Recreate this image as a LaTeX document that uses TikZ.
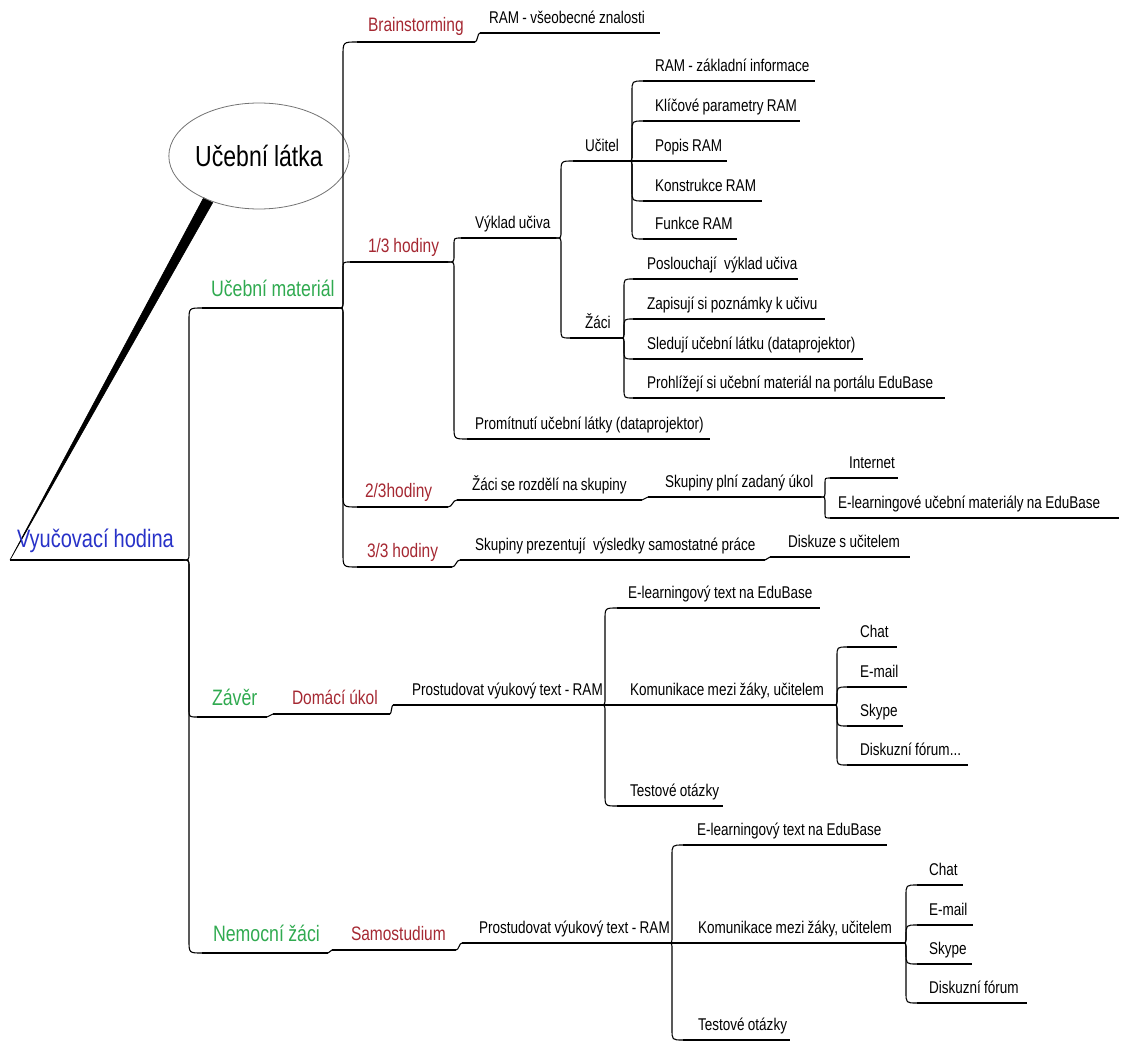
\documentclass[tikz,border=0pt]{standalone}
\usepackage{fontspec}
\setmainfont{Liberation Sans}[FakeStretch=0.795,WordSpace=0.9]
\usetikzlibrary{calc,shapes.geometric,backgrounds}
\definecolor{mgreen}{RGB}{48,170,80}
\definecolor{mred}{RGB}{165,40,50}
\definecolor{mblue}{RGB}{40,50,200}
\tikzset{
 cn/.style={line width=1.1pt, black},
 ul/.style={line width=1.3pt, black},
 tk/.style={font=\fontsize{17}{20}\selectfont, text depth=0pt, inner ysep=9.5pt},
 tr/.style={font=\fontsize{19.5}{23}\selectfont, text=mred, text depth=0pt, inner ysep=10pt},
 tg/.style={font=\fontsize{22.3}{26}\selectfont, text=mgreen, text depth=0pt, inner ysep=12pt},
 tb/.style={font=\fontsize{25.2}{29}\selectfont, text=mblue, text depth=0pt, inner ysep=13pt},
}
% #1 style, #2 name, #3 underline start x, #4 underline end x, #5 underline y, #6 text x, #7 text
\newcommand\mm[7]{%
  \pgfmathsetmacro\mmpad{#6-#3}%
  \pgfmathsetmacro\mmw{#4-#6-(#6-#3)}%
  \node[#1, anchor=south west, inner xsep=\mmpad pt, text width=\mmw pt, align=left, outer sep=0pt] (#2) at (#3,#5) {\mbox{\spaceskip=0pt\xspaceskip=0pt\relax #7}};
  \draw[ul] (#2.south west) -- (#2.south east);}
% bracket connector
\newcommand\brk[3][5]{%
  \draw[cn] let \p1=(#2.south east), \p2=(#3.south west), \n1={sign(\y2-\y1)} in
   (\p1) .. controls ({\x1+#1pt},\y1) .. ({\x1+#1pt},{\y1+\n1*7pt})
   -- ({\x1+#1pt},{\y2-\n1*(\x2-\x1-#1pt)})
   .. controls ({\x1+#1pt},\y2) .. (\p2);}
% small step connector
\newcommand\stp[2]{%
  \draw[cn] let \p1=(#1.south east), \p2=(#2.south west) in
   (\p1) .. controls ({(\x1+\x2)/2},\y1) and ({(\x1+\x2)/2},\y2) .. (\p2);}
% straight continuation
\newcommand\stc[2]{\draw[cn] (#1.south east) -- (#2.south west);}
\begin{document}
\begin{tikzpicture}[x=1pt,y=-1pt]
\useasboundingbox (0,0) rectangle (1121,1043);
% ellipse
\node[draw=black!55, line width=0.8pt, ellipse, minimum width=146pt, minimum height=106pt, inner sep=0pt, font=\fontsize{29}{32}\selectfont] (latka) at (259,156) {Učební látka};
% root
\mm{tb}{root}{10}{183}{560}{17}{Vyučovací hodina}
\begin{pgfonlayer}{background}
\filldraw[black, line width=0.6pt] (root.south west) -- ($(latka.221)+(-4.5,-2.5)$) -- ($(latka.221)+(4.5,2.5)$) -- cycle;
\end{pgfonlayer}
% level 1
\mm{tg}{um}{202}{338}{308}{211}{Učební materiál}
\mm{tg}{zaver}{197}{267}{717}{212}{Závěr}
\mm{tg}{nz}{202}{328}{953}{213}{Nemocní žáci}
\brk[6]{root}{um}
\brk[6]{root}{zaver}
\brk[6]{root}{nz}
% level 2 under Učební materiál
\mm{tr}{brain}{357}{475}{42}{368}{Brainstorming}
\mm{tr}{h13}{350}{448}{262}{368}{1/3 hodiny}
\mm{tr}{h23}{357}{448}{507}{365}{2/3hodiny}
\mm{tr}{h33}{357}{452}{567}{367}{3/3 hodiny}
\brk[5]{um}{brain}
\brk[5]{um}{h13}
\brk[5]{um}{h23}
\brk[5]{um}{h33}
\mm{tk}{ramv}{480}{660}{33}{489}{RAM - všeobecné znalosti}
\stp{brain}{ramv}
% 1/3 hodiny
\mm{tk}{vyklad}{461}{556}{238}{475}{Výklad učiva}
\mm{tk}{prom}{467}{710}{439}{475}{Promítnutí učební látky (dataprojektor)}
\brk[6]{h13}{vyklad}
\brk[6]{h13}{prom}
\mm{tk}{ucitel}{573}{628}{161}{585}{Učitel}
\mm{tk}{zaci}{570}{620}{338}{585}{Žáci}
\brk[5]{vyklad}{ucitel}
\brk[5]{vyklad}{zaci}
\mm{tk}{ra}{643}{815}{81}{655}{RAM - základní informace}
\mm{tk}{rb}{643}{800}{121}{655}{Klíčové parametry RAM}
\mm{tk}{rc}{630}{727}{161}{655}{Popis RAM}
\mm{tk}{rd}{643}{762}{201}{655}{Konstrukce RAM}
\mm{tk}{re}{643}{737}{239}{655}{Funkce RAM}
\brk[4]{ucitel}{ra}
\brk[4]{ucitel}{rb}
\stc{ucitel}{rc}
\brk[4]{ucitel}{rd}
\brk[4]{ucitel}{re}
\mm{tk}{za}{633}{798}{279}{647}{Poslouchají\hspace{4pt} výklad učiva}
\mm{tk}{zb}{633}{825}{319}{647}{Zapisují si poznámky k učivu}
\mm{tk}{zc}{633}{863}{359}{647}{Sledují učební látku (dataprojektor)}
\mm{tk}{zd}{633}{945}{398}{647}{Prohlížejí si učební materiál na portálu EduBase}
\brk[4]{zaci}{za}
\brk[4]{zaci}{zb}
\brk[4]{zaci}{zc}
\brk[4]{zaci}{zd}
% 2/3 hodiny
\mm{tk}{skup}{457}{642}{500}{472}{Žáci se rozdělí na skupiny}
\mm{tk}{plni}{648}{821}{497}{665}{Skupiny plní zadaný úkol}
\mm{tk}{inet}{830}{898}{478}{849}{Internet}
\mm{tk}{elm}{830}{1119}{518}{838}{E-learningové učební materiály na EduBase}
\stp{h23}{skup}
\stp{skup}{plni}
\brk[4]{plni}{inet}
\brk[4]{plni}{elm}
% 3/3 hodiny
\mm{tk}{prez}{460}{765}{560}{475}{Skupiny prezentují\hspace{4pt} výsledky samostatné práce}
\mm{tk}{disk}{770}{910}{557}{788}{Diskuze s učitelem}
\stp{h33}{prez}
\stp{prez}{disk}
% Závěr
\mm{tr}{du}{273}{390}{714}{292}{Domácí úkol}
\mm{tk}{pra}{393}{600}{705}{412}{Prostudovat výukový text - RAM}
\stp{zaver}{du}
\stp{du}{pra}
\mm{tk}{ea}{617}{820}{608}{628}{E-learningový text na EduBase}
\mm{tk}{ka}{602}{833}{705}{630}{Komunikace mezi žáky, učitelem}
\mm{tk}{ta}{617}{723}{806}{630}{Testové otázky}
\brk[5]{pra}{ea}
\stc{pra}{ka}
\brk[5]{pra}{ta}
\mm{tk}{ca}{847}{897}{647}{860}{Chat}
\mm{tk}{ma}{847}{907}{687}{860}{E-mail}
\mm{tk}{sa}{847}{903}{726}{860}{Skype}
\mm{tk}{da}{847}{968}{765}{860}{Diskuzní fórum...}
\brk[4]{ka}{ca}
\brk[4]{ka}{ma}
\brk[4]{ka}{sa}
\brk[4]{ka}{da}
% Nemocní žáci
\mm{tr}{sam}{332}{456}{950}{351}{Samostudium}
\mm{tk}{prb}{462}{668}{943}{479}{Prostudovat výukový text - RAM}
\stp{nz}{sam}
\stp{sam}{prb}
\mm{tk}{eb}{683}{887}{845}{697}{E-learningový text na EduBase}
\mm{tk}{kb}{670}{902}{943}{698}{Komunikace mezi žáky, učitelem}
\mm{tk}{tb}{683}{790}{1040}{698}{Testové otázky}
\brk[4]{prb}{eb}
\stc{prb}{kb}
\brk[4]{prb}{tb}
\mm{tk}{cb}{917}{963}{885}{929}{Chat}
\mm{tk}{mb}{917}{973}{925}{929}{E-mail}
\mm{tk}{sb}{917}{972}{964}{929}{Skype}
\mm{tk}{db}{917}{1027}{1003}{929}{Diskuzní fórum}
\brk[4]{kb}{cb}
\brk[4]{kb}{mb}
\brk[4]{kb}{sb}
\brk[4]{kb}{db}
\end{tikzpicture}
\end{document}
